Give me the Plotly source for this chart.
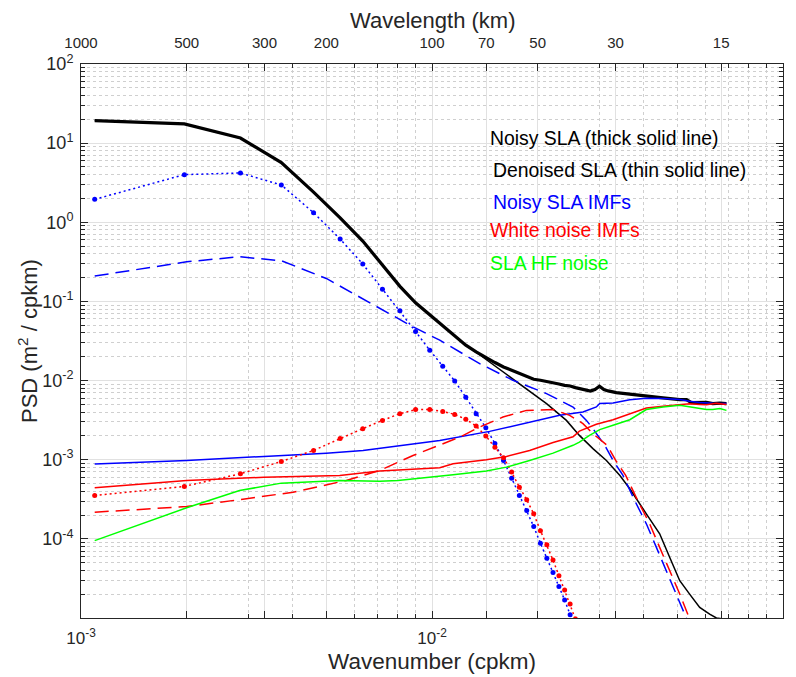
import plotly.graph_objects as go

# ---------------- data ----------------
# wavenumber grid of the dotted (marker) series, cpkm
k_dot = [0.001094, 0.00197, 0.002846, 0.003722, 0.004598, 0.005474, 0.00635, 0.007226,
         0.008102, 0.008978, 0.009854, 0.01073, 0.011606, 0.012482, 0.013358, 0.014234,
         0.01511, 0.015986, 0.016862, 0.017738, 0.018614, 0.01949, 0.020366, 0.021242,
         0.022118, 0.022994, 0.02387, 0.024746, 0.025622]

# Noisy SLA IMFs - dotted with markers
blue_dot = [1.95, 4.0, 4.2, 2.96, 1.32, 0.615, 0.297, 0.143, 0.076, 0.0417, 0.0242, 0.0152,
            0.0099, 0.00615, 0.00382, 0.00254, 1.6e-3, 9.8e-4, 5.85e-4, 3.53e-4, 2.28e-4,
            1.43e-4, 8.8e-5, 5.7e-5, 3.77e-5, 2.5e-5, 1.69e-5, 1.1e-5, 7.2e-6]

# White noise IMFs - dotted with markers
red_dot = [3.53e-4, 4.6e-4, 6.65e-4, 9.5e-4, 1.31e-3, 1.86e-3, 2.47e-3, 3.14e-3, 3.82e-3,
           4.3e-3, 4.3e-3, 4.08e-3, 3.74e-3, 3.24e-3, 2.66e-3, 1.99e-3, 1.44e-3, 1.06e-3,
           6.97e-4, 4.5e-4, 3.12e-4, 2.07e-4, 1.27e-4, 8.4e-5, 5.4e-5, 3.43e-5, 2.26e-5,
           1.5e-5, 9.7e-6]

# Noisy SLA (thick solid line)
k_thick = [0.001094, 0.00197, 0.002846, 0.003722, 0.004598, 0.005474, 0.00635, 0.007226,
           0.008102, 0.008978, 0.009854, 0.01073, 0.011606, 0.012482, 0.013358, 0.014234,
           0.01511, 0.015986, 0.016862, 0.017738, 0.018614, 0.01949, 0.020366, 0.021242,
           0.022118, 0.022994, 0.02387, 0.024746, 0.025622, 0.026498, 0.027374, 0.02825,
           0.029126, 0.030002, 0.030878, 0.031754, 0.0335, 0.0366, 0.0408, 0.0455, 0.0508,
           0.0531, 0.0548, 0.0579, 0.0605, 0.0631, 0.0661, 0.069]
noisy_sla = [19.3, 17.5, 11.6, 5.68, 2.4, 1.14, 0.58, 0.29, 0.155, 0.096, 0.068, 0.050,
             0.0367, 0.028, 0.023, 0.0195, 0.0169, 0.01486, 0.0135, 0.01227, 0.0111, 0.0104,
             0.0101, 0.0098, 0.00944, 0.00906, 0.0087, 0.00855, 0.00815, 0.00792, 0.00754,
             0.00738, 0.0077, 0.0085, 0.0077, 0.0074, 0.00705, 0.00671, 0.00639, 0.00603,
             0.00575, 0.00575, 0.00527, 0.00527, 0.00531, 0.00511, 0.0052, 0.00511]

# Denoised SLA (thin solid line)
k_thin = [0.001094, 0.00197, 0.002846, 0.003722, 0.004598, 0.005474, 0.00635, 0.007226,
          0.008102, 0.008978, 0.009854, 0.01073, 0.011606, 0.012482, 0.013358, 0.01526,
          0.01816, 0.0212, 0.02415, 0.0263, 0.02874, 0.0314, 0.0343, 0.0366, 0.0408,
          0.04453, 0.04754, 0.0508, 0.0542, 0.0579, 0.0618, 0.0646, 0.069]
denoised_sla = [19.3, 17.5, 11.6, 5.68, 2.4, 1.14, 0.58, 0.29, 0.155, 0.096, 0.068, 0.050,
                0.0367, 0.028, 0.0228, 0.01486, 8.3e-3, 5.12e-3, 3.14e-3, 2.03e-3, 1.38e-3,
                9.8e-4, 6.33e-4, 4.3e-4, 2.07e-4, 1.16e-4, 5.85e-5, 2.96e-5, 2.0e-5, 1.36e-5,
                1.12e-5, 1.0e-5, 9.6e-6]

# Noisy SLA IMFs - solid
k_blue_solid = [0.001094, 0.002, 0.00332, 0.005, 0.00636, 0.00774, 0.01052, 0.01459, 0.01816,
                0.02311, 0.02692, 0.02939, 0.03005, 0.0328, 0.0366, 0.0408, 0.0455, 0.0508,
                0.0542, 0.0579, 0.0631, 0.069]
blue_solid = [8.8e-4, 9.8e-4, 1.1e-3, 1.21e-3, 1.31e-3, 1.47e-3, 1.75e-3, 2.28e-3, 2.86e-3,
              3.64e-3, 4.0e-3, 4.64e-3, 5.12e-3, 5.2e-3, 5.74e-3, 6.0e-3, 5.95e-3, 5.75e-3,
              5.47e-3, 5.27e-3, 5.16e-3, 5.12e-3]

# Noisy SLA IMFs - dashed
k_blue_dash = [0.001094, 0.002, 0.00283, 0.00372, 0.005, 0.00622, 0.0071, 0.00883, 0.01052,
               0.011, 0.01367, 0.017, 0.0212, 0.02522, 0.02754, 0.02874, 0.03105, 0.0328,
               0.035, 0.03778, 0.0408, 0.04358, 0.04652, 0.04969, 0.0531, 0.0545]
blue_dash = [0.209, 0.317, 0.367, 0.327, 0.195, 0.114, 0.082, 0.0477, 0.0324, 0.0288, 0.0164,
             0.0101, 6.84e-3, 4.63e-3, 3.14e-3, 2.47e-3, 1.52e-3, 9.8e-4, 6.33e-4, 3.06e-4,
             1.55e-4, 7.8e-5, 3.97e-5, 2.01e-5, 9.7e-6, 7.5e-6]

# White noise IMFs - solid
k_red_solid = [0.001094, 0.002, 0.00332, 0.00546, 0.0071, 0.01052, 0.01148, 0.01429, 0.0163,
               0.01897, 0.02213, 0.02522, 0.0263, 0.02939, 0.0328, 0.0366, 0.0408, 0.0455,
               0.0508, 0.0542, 0.0579, 0.0605, 0.0646, 0.069]
red_solid = [4.43e-4, 5.47e-4, 6.0e-4, 6.33e-4, 7.18e-4, 7.9e-4, 8.9e-4, 1.0e-3, 1.1e-3,
             1.31e-3, 1.65e-3, 1.95e-3, 2.3e-3, 2.8e-3, 3.2e-3, 3.8e-3, 4.5e-3, 4.75e-3,
             4.9e-3, 5.1e-3, 5.0e-3, 4.95e-3, 5.15e-3, 5.0e-3]

# White noise IMFs - dashed
k_red_dash = [0.001094, 0.002, 0.00296, 0.00402, 0.0057, 0.0071, 0.00883, 0.01052, 0.012,
              0.01367, 0.01593, 0.01858, 0.02213, 0.02467, 0.02692, 0.02874, 0.03155, 0.03337,
              0.03563, 0.03855, 0.04169, 0.04453, 0.04754, 0.05079, 0.0542, 0.0556]
red_dash = [2.17e-4, 2.56e-4, 3.21e-4, 3.89e-4, 5.47e-4, 7.33e-4, 1.13e-3, 1.52e-3, 1.93e-3,
            2.59e-3, 3.46e-3, 4.2e-3, 4.3e-3, 3.64e-3, 2.86e-3, 2.13e-3, 1.52e-3, 9.8e-4,
            6.33e-4, 3.06e-4, 1.55e-4, 7.8e-5, 3.97e-5, 2.01e-5, 9.7e-6, 7.5e-6]

# SLA HF noise
k_green = [0.001094, 0.002, 0.00283, 0.00372, 0.00546, 0.0071, 0.008, 0.01052, 0.01148,
           0.01429, 0.0163, 0.01897, 0.02213, 0.02522, 0.0263, 0.0281, 0.03005, 0.0328,
           0.0366, 0.0408, 0.0455, 0.0508, 0.0542, 0.0579, 0.0605, 0.0631, 0.0661, 0.069]
green = [9.5e-5, 2.47e-4, 4.08e-4, 5.06e-4, 5.47e-4, 5.36e-4, 5.47e-4, 6.15e-4, 6.46e-4,
         7.18e-4, 8.06e-4, 9.8e-4, 1.21e-3, 1.52e-3, 1.67e-3, 2.03e-3, 2.4e-3, 2.72e-3,
         3.2e-3, 4.3e-3, 4.63e-3, 4.86e-3, 4.63e-3, 4.43e-3, 4.3e-3, 4.3e-3, 4.43e-3, 4.2e-3]

# axis ticks
wavelength_ticks_km = [1000, 500, 300, 200, 100, 70, 50, 30, 15]
x_major = [1e-3, 1e-2, 1e-1]
x_major_text = ["10<sup>-3</sup>", "10<sup>-2</sup>", "10<sup>-1</sup>"]
y_major = [1e-4, 1e-3, 1e-2, 1e-1, 1e0, 1e1, 1e2]
y_major_text = ["10<sup>-4</sup>", "10<sup>-3</sup>", "10<sup>-2</sup>", "10<sup>-1</sup>",
                "10<sup>0</sup>", "10<sup>1</sup>", "10<sup>2</sup>"]

legend_items = [("Noisy SLA (thick solid line)", "black"),
                ("Denoised SLA (thin solid line)", "black"),
                ("Noisy SLA IMFs", "#0000ff"),
                ("White noise IMFs", "#ff0000"),
                ("SLA HF noise", "#00ff00")]

# ---------------- figure ----------------
BLUE, RED, GREEN = "#0000ff", "#ff0000", "#00ff00"
FONT = "Liberation Sans, Arial, Helvetica, sans-serif"
DASH = "14px,7px"
DOT = "2px,3px"

fig = go.Figure()

def line(x, y, color, width, dash="solid", markers=False, xaxis="x"):
    fig.add_trace(go.Scatter(
        x=x, y=y, xaxis=xaxis,
        mode="lines+markers" if markers else "lines",
        line=dict(color=color, width=width, dash=dash),
        marker=dict(size=5, color=color),
        hoverinfo="skip", showlegend=False))

line(k_thin, denoised_sla, "black", 1.5)
line(k_thick, noisy_sla, "black", 3.2)
line(k_blue_solid, blue_solid, BLUE, 1.5)
line(k_blue_dash, blue_dash, BLUE, 1.5, DASH)
line(k_dot, blue_dot, BLUE, 1.5, DOT, markers=True)
line(k_red_solid, red_solid, RED, 1.5)
line(k_red_dash, red_dash, RED, 1.5, DASH)
line(k_dot, red_dot, RED, 1.5, DOT, markers=True)
line(k_green, green, GREEN, 1.5)

# invisible trace so the top (wavelength) axis is drawn
fig.add_trace(go.Scatter(x=[0.01], y=[1], xaxis="x2", mode="markers",
                         marker=dict(opacity=0), hoverinfo="skip", showlegend=False))

x_minor = [m * d for d in (1e-3, 1e-2) for m in range(2, 10)]
y_minor = [m * d for d in (1e-5, 1e-4, 1e-3, 1e-2, 1e-1, 1e0, 1e1) for m in range(2, 10)]

AX = "#262626"
GRID = "#e1e1e1"
MINOR_GRID = "#cfcfcf"

fig.update_layout(
    width=796, height=677,
    margin=dict(l=81, r=13, t=64, b=59, autoexpand=False),
    paper_bgcolor="white", plot_bgcolor="white",
    font=dict(family=FONT, color=AX, size=16),
    showlegend=False,
    xaxis=dict(
        type="log", range=[-3, -1], automargin=False,
        tickmode="array", tickvals=x_major, ticktext=x_major_text,
        ticks="inside", ticklen=7, tickcolor=AX, tickwidth=1,
        showline=True, linecolor=AX, linewidth=1, mirror="ticks",
        showgrid=True, gridcolor=GRID, gridwidth=1, zeroline=False,
        minor=dict(tickmode="array", tickvals=x_minor, ticks="inside", ticklen=4,
                   tickcolor=AX, showgrid=True, griddash="dot", gridcolor=MINOR_GRID),
        tickfont=dict(size=17, color=AX), ticklabelstandoff=5,
    ),
    xaxis2=dict(
        type="log", range=[-3, -1], overlaying="x", side="top", anchor="y",
        automargin=False,
        tickmode="array",
        tickvals=[1.0 / w for w in wavelength_ticks_km],
        ticktext=[str(w) for w in wavelength_ticks_km],
        ticks="inside", ticklen=7, tickcolor=AX, tickwidth=1,
        showline=True, linecolor=AX, linewidth=1, mirror="ticks",
        showgrid=True, gridcolor=GRID, gridwidth=1, zeroline=False,
        tickfont=dict(size=15, color=AX), ticklabelstandoff=9,
    ),
    yaxis=dict(
        type="log", range=[-5, 2], automargin=False,
        tickmode="array", tickvals=y_major, ticktext=y_major_text,
        ticks="inside", ticklen=7, tickcolor=AX, tickwidth=1,
        showline=True, linecolor=AX, linewidth=1, mirror="ticks",
        showgrid=True, gridcolor=GRID, gridwidth=1, zeroline=False,
        minor=dict(tickmode="array", tickvals=y_minor, ticks="inside", ticklen=4,
                   tickcolor=AX, showgrid=True, griddash="dot", gridcolor=MINOR_GRID),
        tickfont=dict(size=18, color=AX), ticklabelstandoff=3,
    ),
)

annotations = [
    dict(text="Wavelength (km)", x=0.5, y=1.0794, xref="paper", yref="paper",
         showarrow=False, xanchor="center", yanchor="middle",
         font=dict(size=22, color=AX, family=FONT)),
    dict(text="Wavenumber (cpkm)", x=0.5, y=-0.0794, xref="paper", yref="paper",
         showarrow=False, xanchor="center", yanchor="middle",
         font=dict(size=22.5, color=AX, family=FONT)),
    dict(text="PSD (m<sup>2</sup> / cpkm)", x=-0.0755, y=0.5, xref="paper", yref="paper",
         showarrow=False, xanchor="center", yanchor="middle", textangle=-90,
         font=dict(size=22, color=AX, family=FONT)),
]
leg_x = [0.580, 0.5836, 0.5836, 0.580, 0.580]
leg_y = [0.8659, 0.8087, 0.7514, 0.7004, 0.6403]
for (txt, col), lx, ly in zip(legend_items, leg_x, leg_y):
    annotations.append(dict(text=txt, x=lx, y=ly, xref="paper", yref="paper",
                            showarrow=False, xanchor="left", yanchor="middle",
                            font=dict(size=19.4, color=col, family=FONT)))
fig.update_layout(annotations=annotations)

# remove the default 8px page margin so the figure sits at the window's corner
fig.write_html("out.html",
               config={"displayModeBar": False},
               post_script="document.body.style.margin='0px';"
                           "document.body.style.overflow='hidden';")
